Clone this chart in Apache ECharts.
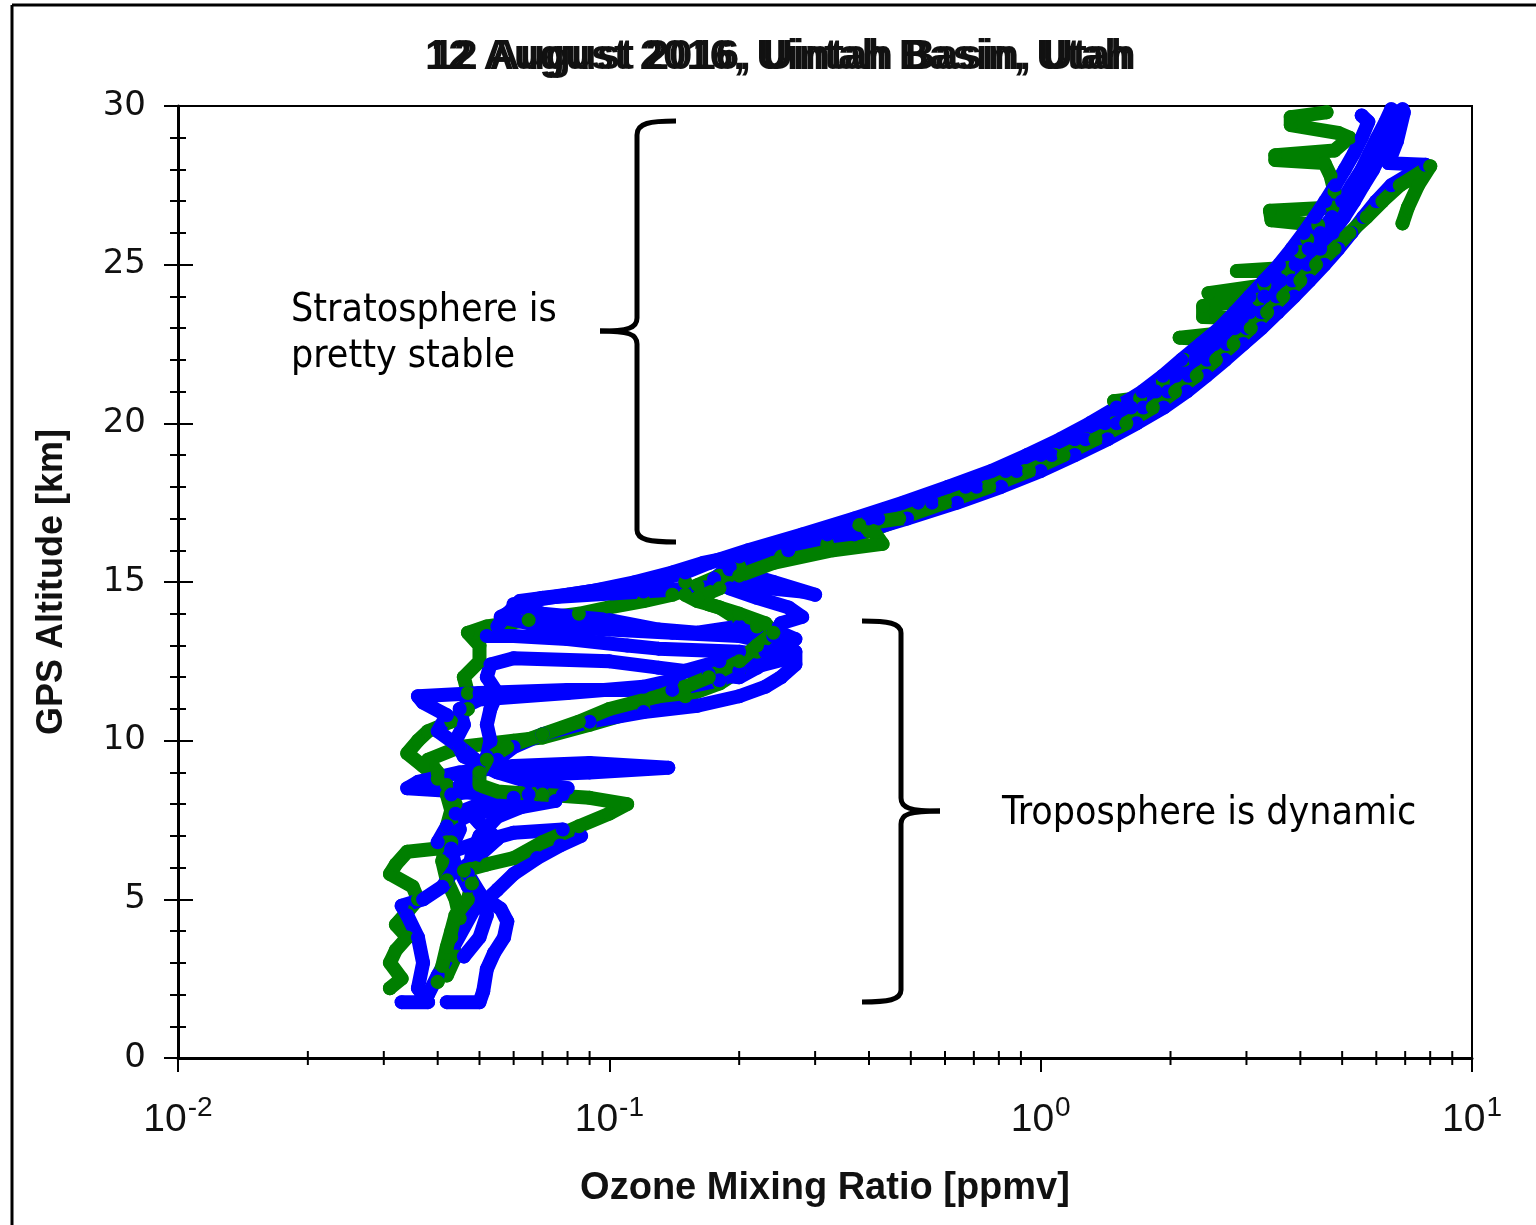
<!DOCTYPE html>
<html>
<head>
<meta charset="utf-8">
<title>Ozone profiles, Uintah Basin</title>
<script src="https://cdn.jsdelivr.net/npm/echarts@6/dist/echarts.min.js"></script>
<style>
  html, body { margin: 0; padding: 0; background: #fff; }
  #chart { width: 1536px; height: 1225px; }
</style>
</head>
<body>
<div id="chart"></div>
<script>
// ozone mixing ratio [ppmv], GPS altitude [km] pairs
var blue1 = [
  [0.033,1.76],[0.038,1.76],[0.036,2.2],[0.037,3.0],[0.036,3.8],[0.034,4.5],[0.033,4.8],[0.037,5.0],
  [0.041,5.4],[0.044,6.0],[0.043,6.6],[0.045,7.2],[0.044,7.7],[0.05,8.0],[0.06,8.2],[0.045,8.4],
  [0.034,8.5],[0.036,8.7],[0.045,9.0],[0.06,9.2],[0.09,9.3],[0.137,9.15],[0.09,9.0],[0.06,8.9],
  [0.05,9.3],[0.045,9.8],[0.04,10.3],[0.042,10.8],[0.037,11.2],[0.036,11.4],[0.05,11.5],[0.08,11.6],
  [0.14,11.6],[0.18,11.9],[0.2,12.2],[0.26,12.6],[0.2,12.8],[0.13,12.9],[0.11,13.0],[0.08,13.2],
  [0.06,13.3],[0.052,13.3],[0.055,13.6],[0.058,14.0],[0.062,14.4],[0.08,14.6],[0.1,14.8],[0.125,15.0],
  [0.15,15.3],[0.17,15.6],[0.21,16.0],[0.28,16.5],[0.37,17.0],[0.48,17.5],[0.61,18.0],[0.77,18.5],
  [0.93,19.0],[1.11,19.5],[1.3,20.0],[1.5,20.5],[1.72,21.0],[1.92,21.5],[2.12,22.0],[2.35,22.5],
  [2.6,23.0],[2.82,23.5],[3.05,24.0],[3.3,24.5],[3.57,25.0],[3.82,25.5],[4.07,26.0],[4.32,26.5],
  [4.57,27.0],[4.82,27.5],[5.07,28.0],[5.32,28.5],[5.55,29.0],[5.75,29.5],[5.55,29.7]
];
var blue2 = [
  [0.042,1.76],[0.05,1.76],[0.051,2.1],[0.052,2.8],[0.054,3.3],[0.057,3.8],[0.058,4.3],[0.056,4.7],
  [0.052,5.0],[0.055,5.3],[0.06,5.8],[0.068,6.3],[0.077,6.7],[0.086,7.0],[0.078,7.2],[0.06,7.1],
  [0.05,6.8],[0.043,6.5],[0.04,6.8],[0.042,7.3],[0.048,7.7],[0.062,7.9],[0.075,8.1],[0.065,8.3],
  [0.048,8.4],[0.043,8.3],[0.045,8.6],[0.05,9.0],[0.052,9.5],[0.053,10.0],[0.052,10.5],[0.053,11.0],
  [0.055,11.5],[0.052,12.0],[0.053,12.4],[0.06,12.6],[0.1,12.5],[0.13,12.3],[0.17,12.1],[0.2,12.0],
  [0.22,12.3],[0.25,12.8],[0.27,13.2],[0.24,13.5],[0.2,13.6],[0.16,13.4],[0.13,13.5],[0.1,13.8],
  [0.07,14.0],[0.06,14.3],[0.07,14.5],[0.12,14.7],[0.2,14.9],[0.28,14.7],[0.3,14.6],[0.24,15.0],
  [0.19,15.4],[0.2,15.8],[0.26,16.2],[0.33,16.6],[0.4,17.0],[0.52,17.5],[0.67,18.0],[0.83,18.5],
  [1.0,19.0],[1.2,19.5],[1.41,20.0],[1.62,20.5],[1.85,21.0],[2.06,21.5],[2.28,22.0],[2.53,22.5],
  [2.82,23.0],[3.05,23.5],[3.3,24.0],[3.6,24.5],[3.9,25.0],[4.18,25.5],[4.45,26.0],[4.74,26.5],
  [5.0,27.0],[5.26,27.5],[5.55,28.0],[5.78,28.5],[6.03,29.0],[6.3,29.5],[6.5,29.9]
];
var blue3 = [
  [0.038,2.0],[0.04,2.6],[0.05,5.0],[0.047,5.4],[0.045,5.9],[0.05,6.4],[0.055,6.9],[0.05,7.4],
  [0.047,7.8],[0.052,8.0],[0.07,8.3],[0.08,8.5],[0.065,8.7],[0.055,9.0],[0.046,9.5],[0.044,10.0],
  [0.046,10.5],[0.045,11.0],[0.05,11.3],[0.08,11.5],[0.12,11.7],[0.14,11.9],[0.15,12.2],[0.18,12.5],
  [0.23,12.8],[0.25,13.0],[0.2,13.3],[0.14,13.4],[0.1,13.5],[0.07,13.6],[0.056,13.9],[0.06,14.1],
  [0.065,14.4],[0.09,14.7],[0.115,15.0],[0.14,15.3],[0.165,15.6],[0.23,16.0],[0.32,16.5],[0.42,17.0],
  [0.56,17.5],[0.71,18.0],[0.88,18.5],[1.06,19.0],[1.27,19.5],[1.5,20.0],[1.73,20.5],[1.97,21.0],
  [2.2,21.5],[2.43,22.0],[2.7,22.5],[3.0,23.0],[3.25,23.5],[3.52,24.0],[3.83,24.5],[4.15,25.0],
  [4.45,25.5],[4.75,26.0],[5.05,26.5],[5.33,27.0],[5.6,27.5],[5.9,28.0],[6.15,28.5],[6.4,29.0],
  [6.7,29.5],[6.9,29.9]
];
var blue4 = [
  [0.046,3.2],[0.05,3.8],[0.052,4.5],[0.05,5.2],[0.047,5.8],[0.048,6.4],[0.05,7.0],[0.055,7.6],
  [0.065,8.0],[0.078,8.3],[0.07,8.6],[0.06,9.0],[0.055,9.4],[0.06,9.8],[0.07,10.2],[0.09,10.6],
  [0.12,10.9],[0.16,11.1],[0.2,11.4],[0.23,11.7],[0.25,12.0],[0.27,12.4],[0.27,12.8],[0.24,13.3],
  [0.25,13.7],[0.28,13.9],[0.26,14.2],[0.22,14.5],[0.19,14.8],[0.175,15.1],[0.19,15.5],[0.26,16.0],
  [0.37,16.5],[0.49,17.0],[0.64,17.5],[0.81,18.0],[1.0,18.5],[1.2,19.0],[1.43,19.5],[1.67,20.0],
  [1.93,20.5],[2.18,21.0],[2.42,21.5],[2.68,22.0],[2.95,22.5],[3.25,23.0],[3.55,23.5],[3.87,24.0],
  [4.2,24.5],[4.55,25.0],[4.9,25.5],[5.25,26.0],[5.6,26.5],[6.0,27.0],[6.5,27.5],[7.8,28.15],
  [6.4,28.2],[6.7,28.9],[6.95,29.8]
];
var green1 = [
  [0.031,2.2],[0.033,2.5],[0.031,3.0],[0.032,3.4],[0.034,3.8],[0.032,4.2],[0.034,4.6],[0.036,5.0],
  [0.035,5.4],[0.031,5.8],[0.032,6.1],[0.034,6.5],[0.04,6.6],[0.043,6.8],[0.042,7.3],[0.043,7.8],
  [0.042,8.3],[0.04,8.8],[0.037,9.2],[0.034,9.6],[0.036,10.0],[0.038,10.3],[0.043,10.6],[0.047,11.0],
  [0.047,11.5],[0.046,12.0],[0.05,12.5],[0.05,13.0],[0.047,13.4],[0.052,13.6],[0.065,13.8],[0.085,14.0],
  [0.1,14.2],[0.12,14.4],[0.14,14.6],[0.16,14.9],[0.18,15.2],[0.2,15.5],[0.25,15.8],[0.32,16.2],
  [0.4,16.6],[0.48,17.0],[0.6,17.5],[0.75,18.0],[0.92,18.5],[1.08,19.0],[1.28,19.5],[1.48,20.0],
  [1.68,20.5],[1.48,20.7],[1.7,20.8],[1.92,21.3],[2.15,22.0],[2.85,22.6],[2.1,22.7],[2.9,22.9],
  [3.15,23.3],[2.38,23.35],[2.38,23.7],[3.2,23.9],[2.45,24.1],[3.3,24.35],[3.75,24.8],[2.85,24.8],
  [3.75,24.9],[4.0,25.4],[4.15,25.8],[4.4,26.25],[3.43,26.4],[3.4,26.7],[4.75,26.8],[4.8,27.3],
  [4.7,27.8],[4.55,28.2],[3.5,28.3],[3.5,28.45],[4.8,28.6],[5.2,29.0],[4.9,29.15],[3.8,29.4],
  [3.8,29.65],[4.6,29.8]
];
var green2 = [
  [0.04,2.4],[0.041,2.9],[0.042,3.5],[0.043,4.0],[0.044,4.5],[0.047,5.0],[0.048,5.5],[0.046,5.9],
  [0.052,6.1],[0.06,6.3],[0.07,6.8],[0.085,7.3],[0.1,7.7],[0.11,8.0],[0.09,8.2],[0.07,8.3],
  [0.055,8.4],[0.05,8.6],[0.05,9.0],[0.052,9.4],[0.058,9.8],[0.07,10.2],[0.085,10.6],[0.1,11.0],
  [0.13,11.4],[0.15,11.7],[0.17,12.0],[0.2,12.5],[0.22,13.0],[0.24,13.4],[0.23,13.7],[0.2,14.0],
  [0.17,14.3],[0.16,14.5],[0.18,14.8],[0.2,15.2],[0.24,15.6],[0.33,16.0],[0.43,16.2],[0.41,16.6],
  [0.38,16.8],[0.47,17.0],[0.6,17.5],[0.76,18.0],[0.94,18.5],[1.13,19.0],[1.34,19.5],[1.58,20.0],
  [1.82,20.5],[2.05,21.0],[2.3,21.5],[2.55,22.0],[2.8,22.5],[3.07,23.0],[3.35,23.5],[3.65,24.0],
  [4.0,24.5],[4.35,25.0],[4.8,25.5],[5.2,26.0],[5.7,26.5],[6.2,27.0],[6.8,27.5],[8.0,28.1],
  [7.5,27.5],[7.1,26.8],[6.9,26.3]
];
var green3 = [
  [0.042,2.6],[0.044,3.2],[0.043,3.8],[0.045,4.4],[0.044,5.0],[0.042,5.6],[0.041,6.2],[0.042,6.8],
  [0.043,7.4],[0.044,8.0],[0.042,8.6],[0.04,9.0],[0.038,9.4],[0.045,9.8],[0.06,10.0],[0.07,10.1],
  [0.09,10.5],[0.12,11.0],[0.15,11.4],[0.18,11.8],[0.2,12.2],[0.22,12.8],[0.23,13.2],[0.22,13.6],
  [0.2,13.8],[0.18,14.2],[0.16,14.4],[0.15,14.6],[0.15,15.0]
];
var minorTicks = [0.02,0.03,0.04,0.05,0.06,0.07,0.08,0.09,0.2,0.3,0.4,0.5,0.6,0.7,0.8,0.9,2,3,4,5,6,7,8,9];
var titleText = '12 August 2016, Uintah Basin, Utah';

var chart = echarts.init(document.getElementById('chart'));

var BLUE = '#0000ff', GREEN = '#007f00';
function profile(data, color) {
    return {
        type: 'line',
        data: data,
        symbol: 'circle',
        symbolSize: 14,
        showSymbol: true,
        showAllSymbol: true,
        clip: true,
        lineStyle: { color: color, width: 14, cap: 'round', join: 'round' },
        itemStyle: { color: color, borderWidth: 0 },
        z: 3
    };
}

// curly brace built from lines and bezier pieces
function brace(pts) {
    return pts.map(function (s) {
        var el = s.length === 4
            ? { type: 'line', shape: { x1: s[0], y1: s[1], x2: s[2], y2: s[3] } }
            : { type: 'bezierCurve', shape: { x1: s[0], y1: s[1], cpx1: s[2], cpy1: s[3], cpx2: s[4], cpy2: s[5], x2: s[6], y2: s[7] } };
        el.style = { stroke: '#000', lineWidth: 5, fill: null };
        return el;
    });
}

var sansFont = '"Liberation Sans", Arial, sans-serif';
var noteFont = '39px "DejaVu Sans Condensed", "DejaVu Sans", sans-serif';

var graphics = [
    // page frame (left and top edges)
    { type: 'line', shape: { x1: 12, y1: 5, x2: 1536, y2: 5 }, style: { stroke: '#000', lineWidth: 3 } },
    { type: 'line', shape: { x1: 12, y1: 5, x2: 12, y2: 1225 }, style: { stroke: '#000', lineWidth: 3 } },
    // title printed twice with a small offset, as in the source
    { type: 'text', x: 425, y: 36, style: { text: titleText, font: 'bold 42px ' + sansFont, fill: '#111' } },
    { type: 'text', x: 431, y: 36, style: { text: titleText, font: 'bold 42px ' + sansFont, fill: '#111' } },
    { type: 'text', x: 291, y: 288, style: { text: 'Stratosphere is\npretty stable', font: noteFont, lineHeight: 46, fill: '#000' } },
    { type: 'text', x: 1002, y: 794, style: { text: 'Troposphere is dynamic', font: noteFont, fill: '#000' } }
].concat(brace([
    [676,121, 650,121, 637,123, 637,135],
    [637,135, 637,318],
    [637,318, 637,328, 628,331, 600,331],
    [600,331, 628,331, 637,334, 637,344],
    [637,344, 637,530],
    [637,530, 637,540, 650,542, 676,542]
])).concat(brace([
    [862,621, 888,621, 901,623, 901,633],
    [901,633, 901,798],
    [901,798, 901,808, 910,811, 940,811],
    [940,811, 910,811, 901,814, 901,824],
    [901,824, 901,990],
    [901,990, 901,1000, 888,1002, 862,1002]
]));

var option = {
    animation: false,
    backgroundColor: '#fff',
    grid: {
        left: 178, right: 64, top: 106, bottom: 167,
        show: true, borderColor: '#000', borderWidth: 2
    },
    xAxis: [
        {
            type: 'log', logBase: 10, min: 0.01, max: 10,
            name: 'Ozone Mixing Ratio [ppmv]', nameLocation: 'middle', nameGap: 112,
            nameTextStyle: { fontFamily: sansFont, fontWeight: 'bold', fontSize: 38, color: '#111' },
            axisLine: { lineStyle: { color: '#000', width: 3 } },
            axisTick: { inside: false, length: 14, lineStyle: { color: '#000', width: 2 } },
            splitLine: { show: false },
            axisLabel: {
                margin: 36,
                formatter: function (v) {
                    return '{b|10}{s|' + Math.round(Math.log10(v)) + '}';
                },
                rich: {
                    b: { fontFamily: sansFont, fontSize: 39, color: '#111', lineHeight: 46, verticalAlign: 'bottom' },
                    s: { fontFamily: sansFont, fontSize: 28, color: '#111', lineHeight: 46, verticalAlign: 'top', padding: [0, 0, 20, 1] }
                }
            }
        },
        {
            type: 'log', logBase: 10, min: 0.01, max: 10,
            axisLine: { show: false },
            axisTick: { inside: true, length: 14, lineStyle: { color: '#000', width: 2 } },
            axisLabel: { show: false },
            splitLine: { show: false }
        }
    ],
    yAxis: [
        {
            type: 'value', min: 0, max: 30, interval: 5,
            name: 'GPS Altitude [km]', nameLocation: 'middle', nameGap: 108,
            nameTextStyle: { fontFamily: sansFont, fontWeight: 'bold', fontSize: 36, color: '#111' },
            axisLine: { show: true, lineStyle: { color: '#000', width: 3 } },
            axisTick: { show: true, inside: false, length: 14, lineStyle: { color: '#000', width: 2 } },
            minorTick: { show: true, splitNumber: 5, length: 8, lineStyle: { color: '#000', width: 2 } },
            splitLine: { show: false },
            minorSplitLine: { show: false },
            axisLabel: { margin: 32, fontFamily: '"DejaVu Sans", Verdana, sans-serif', fontSize: 34, color: '#111' }
        },
        {
            type: 'value', min: 0, max: 30, interval: 5, position: 'left',
            axisLine: { show: false },
            axisTick: { show: true, inside: true, length: 15, lineStyle: { color: '#000', width: 2 } },
            minorTick: { show: true, splitNumber: 5, length: 8, lineStyle: { color: '#000', width: 2 } },
            splitLine: { show: false },
            axisLabel: { show: false }
        }
    ],
    series: [
        {
            // minor log ticks on the ozone axis
            type: 'custom',
            data: minorTicks,
            clip: false,
            silent: true,
            z: 5,
            encode: { x: 0 },
            renderItem: function (params, api) {
                var p = api.coord([api.value(0), 0]);
                return {
                    type: 'line',
                    shape: { x1: p[0], y1: p[1] - 7, x2: p[0], y2: p[1] + 7 },
                    style: { stroke: '#000', lineWidth: 2 }
                };
            }
        },
        profile(green3, GREEN),
        profile(green1, GREEN),
        profile(blue1, BLUE),
        profile(blue2, BLUE),
        profile(blue3, BLUE),
        profile(blue4, BLUE),
        profile(green2, GREEN)
    ],
    graphic: graphics
};

chart.setOption(option);
window.onresize = chart.resize;
</script>
</body>
</html>
